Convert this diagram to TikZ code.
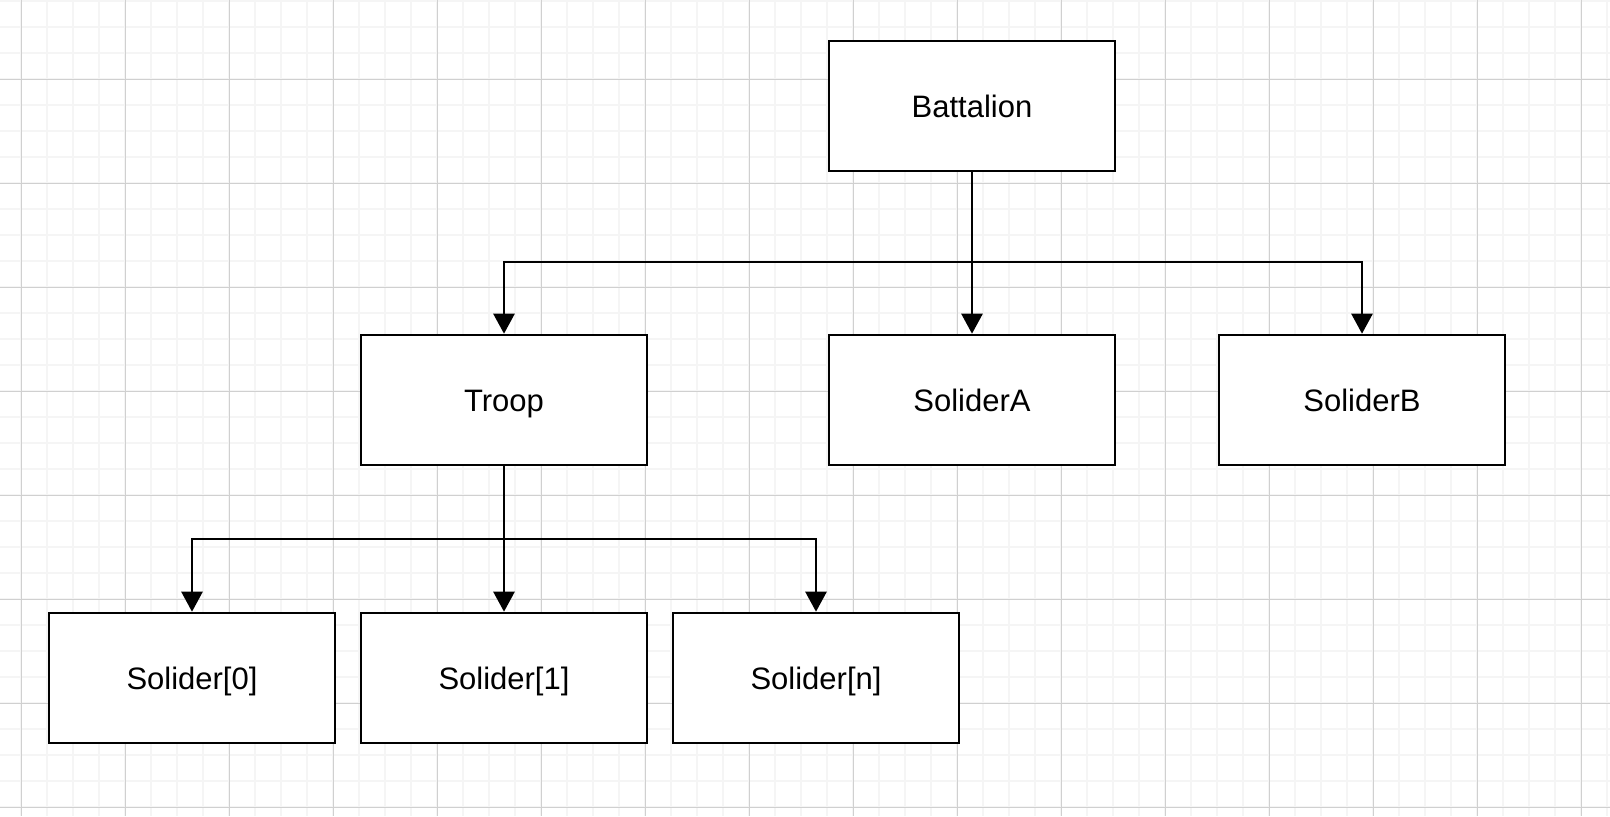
\documentclass[tikz,border=0pt]{standalone}
\usepackage{fontspec}
\setmainfont{Liberation Sans}
\usepackage{tikz}
\usetikzlibrary{arrows.meta}
\definecolor{gridminor}{RGB}{245,245,245}
\definecolor{gridmajor}{RGB}{208,208,208}
\tikzstyle{unitbox} = [rectangle,
minimum width=143pt,
minimum height=65pt,
text centered,
text height=13.5pt,
text depth=2pt,
line width=1.3pt,
font=\fontsize{15.5}{18}\selectfont,
fill=white,
draw=black]
\tikzstyle{link} = [line width=1.3pt, -{Triangle[length=10pt, width=10.5pt]}]

\begin{document}
\begin{tikzpicture}[node distance=147pt]
		\useasboundingbox (0,0) rectangle (805pt,-408pt);
		\fill[white] (0,0) rectangle (805pt,-408pt);
		\foreach \k in {0,...,61}
			\draw[gridminor, line width=0.8pt] (10.5pt+\k*13pt,0) -- (10.5pt+\k*13pt,-408pt);
		\foreach \k in {0,...,31}
			\draw[gridminor, line width=0.8pt] (0,-0.5pt-\k*13pt) -- (805pt,-0.5pt-\k*13pt);
		\foreach \k in {0,...,15}
			\draw[gridmajor, line width=0.5pt] (10.5pt+\k*52pt,0) -- (10.5pt+\k*52pt,-408pt);
		\foreach \k in {0,...,7}
			\draw[gridmajor, line width=0.5pt] (0,-39.5pt-\k*52pt) -- (805pt,-39.5pt-\k*52pt);

		\node (battalion) [unitbox] at (486pt,-53pt) {Battalion};
		\node (solA) [unitbox, below of=battalion] {SoliderA};
		\node (troop) [unitbox, left of=solA, xshift=-87pt] {Troop};
		\node (solB) [unitbox, right of=solA, xshift=48pt] {SoliderB};
		\node (sol1) [unitbox, below of=troop, yshift=8pt] {Solider[1]};
		\node (sol0) [unitbox, left of=sol1, xshift=-9pt] {Solider[0]};
		\node (soln) [unitbox, right of=sol1, xshift=9pt] {Solider[n]};

		\coordinate (fork1) at (486pt,-131pt);
		\coordinate (fork2) at (252pt,-269.5pt);

		\draw [link](battalion) -- (solA);
		\draw [link](battalion.south) -- (fork1) -| (troop.north);
		\draw [link](fork1) -| (solB.north);
		\draw [link](troop) -- (sol1);
		\draw [link](fork2) -| (sol0.north);
		\draw [link](fork2) -| (soln.north);
	\end{tikzpicture}
\end{document}
